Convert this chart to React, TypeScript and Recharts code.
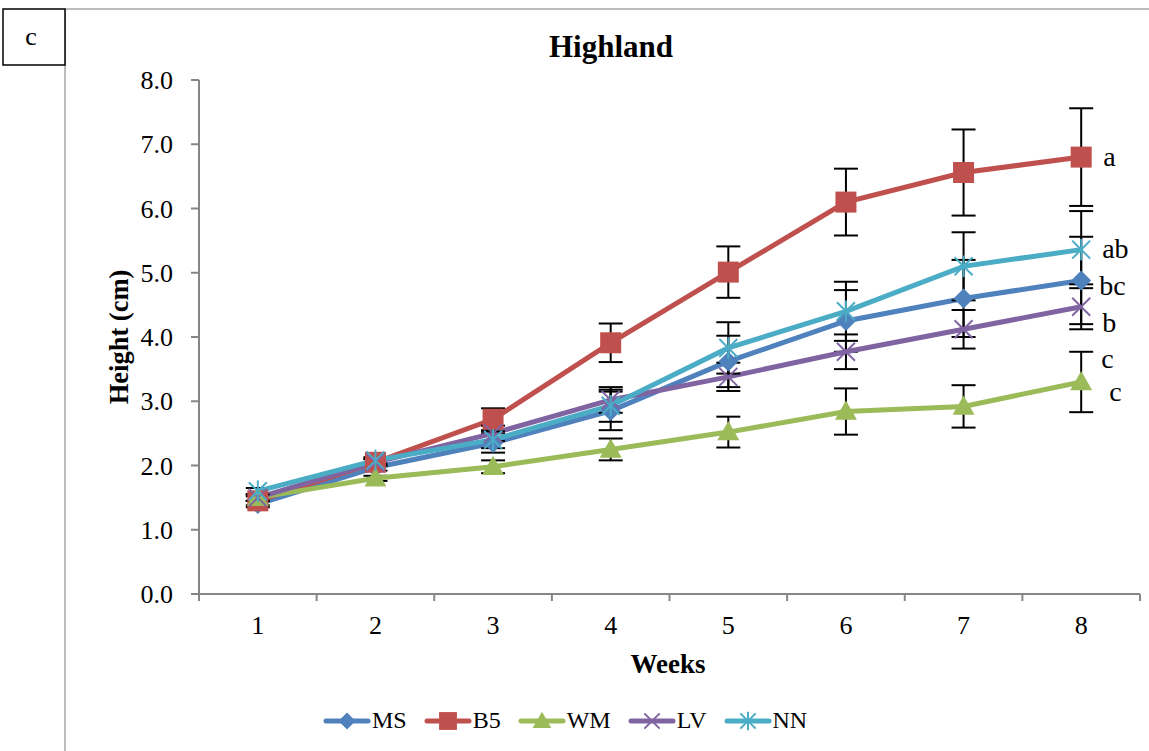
import React from 'react';
import {
  LineChart,
  Line,
  XAxis,
  YAxis,
  ErrorBar,
  LabelList,
  Legend,
} from 'recharts';

const weeks = [1, 2, 3, 4, 5, 6, 7, 8];

const ms = [1.4, 1.97, 2.35, 2.85, 3.62, 4.25, 4.6, 4.88];
const b5 = [1.45, 2.05, 2.72, 3.91, 5.01, 6.1, 6.56, 6.8];
const wm = [1.5, 1.8, 1.98, 2.25, 2.52, 2.84, 2.92, 3.3];
const lv = [1.5, 2.05, 2.5, 3.02, 3.38, 3.77, 4.12, 4.47];
const nn = [1.6, 2.08, 2.4, 2.93, 3.83, 4.4, 5.1, 5.36];

const msErr = [0.05, 0.05, 0.15, 0.3, 0.4, 0.48, 0.6, 0.68];
const b5Err = [0.07, 0.05, 0.17, 0.3, 0.4, 0.52, 0.67, 0.76];
const wmErr = [0.05, 0.04, 0.1, 0.17, 0.24, 0.36, 0.33, 0.47];
const lvErr = [0.05, 0.05, 0.12, 0.2, 0.22, 0.27, 0.3, 0.35];
const nnErr = [0.05, 0.05, 0.13, 0.25, 0.4, 0.46, 0.53, 0.6];

const yTicks = [0, 1, 2, 3, 4, 5, 6, 7, 8];
// category boundaries, where Excel puts the tick marks
const xBounds = [0.5, 1.5, 2.5, 3.5, 4.5, 5.5, 6.5, 7.5, 8.5];

// significance letters at week 8
const letters: Record<string, string[]> = {
  MS: ['bc'],
  B5: ['a'],
  WM: ['c', 'c'],
  LV: ['b'],
  NN: ['ab'],
};

const data = weeks.map((w, i) => ({
  week: w,
  MS: ms[i],
  B5: b5[i],
  WM: wm[i],
  LV: lv[i],
  NN: nn[i],
  msErr: msErr[i],
  b5Err: b5Err[i],
  wmErr: wmErr[i],
  lvErr: lvErr[i],
  nnErr: nnErr[i],
}));

const FONT = '"Liberation Serif", "Times New Roman", serif';
const AXIS = '#868686';

const CHART_W = 1149;
const CHART_H = 751;
const MARGIN = { top: 80, right: 9, left: 0, bottom: 77 };
const Y_AXIS_W = 199;
const PLOT_W = CHART_W - MARGIN.left - MARGIN.right - Y_AXIS_W;
const STEP = PLOT_W / 8;

type Shape = 'diamond' | 'square' | 'triangle' | 'x' | 'star';

const series: { key: string; color: string; shape: Shape; err: string }[] = [
  { key: 'MS', color: '#4F81BD', shape: 'diamond', err: 'msErr' },
  { key: 'B5', color: '#C0504D', shape: 'square', err: 'b5Err' },
  { key: 'WM', color: '#9BBB59', shape: 'triangle', err: 'wmErr' },
  { key: 'LV', color: '#8064A2', shape: 'x', err: 'lvErr' },
  { key: 'NN', color: '#4BACC6', shape: 'star', err: 'nnErr' },
];

function Marker({ cx, cy, shape, color, s = 1 }: { cx: number; cy: number; shape: Shape; color: string; s?: number }) {
  switch (shape) {
    case 'diamond': {
      const r = 10 * s;
      return <path d={`M${cx},${cy - r}L${cx + r},${cy}L${cx},${cy + r}L${cx - r},${cy}Z`} fill={color} />;
    }
    case 'square': {
      const r = 10.5 * s;
      return <rect x={cx - r} y={cy - r} width={2 * r} height={2 * r} fill={color} />;
    }
    case 'triangle': {
      const r = 11 * s;
      return <path d={`M${cx},${cy - r}L${cx + r},${cy + r * 0.75}L${cx - r},${cy + r * 0.75}Z`} fill={color} />;
    }
    case 'x': {
      const r = 9 * s;
      return (
        <g stroke={color} strokeWidth={2}>
          <line x1={cx - r} y1={cy - r} x2={cx + r} y2={cy + r} />
          <line x1={cx - r} y1={cy + r} x2={cx + r} y2={cy - r} />
        </g>
      );
    }
    default: {
      const r = 9 * s;
      return (
        <g stroke={color} strokeWidth={2}>
          <line x1={cx - r} y1={cy - r} x2={cx + r} y2={cy + r} />
          <line x1={cx - r} y1={cy + r} x2={cx + r} y2={cy - r} />
          <line x1={cx} y1={cy - r * 1.2} x2={cx} y2={cy + r * 1.2} />
        </g>
      );
    }
  }
}

// offsets of the letters from the week-8 point of each series
const letterPos: Record<string, { dx: number; dy: number }[]> = {
  MS: [{ dx: 18, dy: 5 }],
  B5: [{ dx: 22, dy: 0 }],
  WM: [
    { dx: 20, dy: -23 },
    { dx: 28, dy: 10 },
  ],
  LV: [{ dx: 21, dy: 16 }],
  NN: [{ dx: 21, dy: -1 }],
};

const letterLabel = (key: string) => (props: any) => {
  const { x, y, index } = props;
  if (index !== weeks.length - 1) return null;
  return (
    <g>
      {letters[key].map((t, i) => (
        <text
          key={i}
          x={x + letterPos[key][i].dx}
          y={y + letterPos[key][i].dy}
          dy="0.33em"
          fontFamily={FONT}
          fontSize={28}
          fill="#000"
        >
          {t}
        </text>
      ))}
    </g>
  );
};

function WeekTick(props: any) {
  const { x, y, payload } = props;
  if (payload.value > 8) return null;
  return (
    <text x={x + STEP / 2} y={y + 31} textAnchor="middle" fontFamily={FONT} fontSize={26} fill="#000">
      {payload.value + 0.5}
    </text>
  );
}

function LegendContent() {
  return (
    <div style={{ display: 'flex', alignItems: 'center', fontFamily: FONT, fontSize: 24 }}>
      {series.map((s) => (
        <div key={s.key} style={{ display: 'flex', alignItems: 'center', marginRight: 17 }}>
          <svg width={48} height={24}>
            <line x1={3} y1={12} x2={45} y2={12} stroke={s.color} strokeWidth={5} strokeLinecap="round" />
            <Marker cx={24} cy={12} shape={s.shape} color={s.color} s={0.85} />
          </svg>
          <span style={{ marginLeft: 1 }}>{s.key}</span>
        </div>
      ))}
    </div>
  );
}

export default function App() {
  return (
    <div style={{ position: 'absolute', left: 0, top: 0, width: CHART_W, height: CHART_H, background: '#fff' }}>
      <svg width={CHART_W} height={CHART_H} style={{ position: 'absolute', left: 0, top: 0 }}>
        <line x1={65} y1={9} x2={CHART_W} y2={9} stroke="#a6a6a6" strokeWidth={1.5} />
        <line x1={65} y1={9} x2={65} y2={CHART_H} stroke="#a6a6a6" strokeWidth={1.5} />
        <rect x={3} y={9} width={62} height={56} fill="#fff" stroke="#000" strokeWidth={1.5} />
        <text x={31} y={45} textAnchor="middle" fontFamily={FONT} fontSize={26}>
          c
        </text>
        <text x={611} y={57} textAnchor="middle" fontFamily={FONT} fontSize={31} fontWeight="bold">
          Highland
        </text>
        <text
          x={128}
          y={337}
          textAnchor="middle"
          transform="rotate(-90 128 337)"
          fontFamily={FONT}
          fontSize={26.5}
          fontWeight="bold"
        >
          Height (cm)
        </text>
        <text x={668} y={673} textAnchor="middle" fontFamily={FONT} fontSize={27} fontWeight="bold">
          Weeks
        </text>
      </svg>
      <div style={{ position: 'absolute', left: 0, top: 0 }}>
        <LineChart width={CHART_W} height={CHART_H} data={data} margin={MARGIN}>
          <XAxis
            dataKey="week"
            type="number"
            domain={[0.5, 8.5]}
            ticks={xBounds}
            tick={<WeekTick />}
            height={80}
            stroke={AXIS}
            strokeWidth={2}
            tickSize={7}
            tickLine={{ stroke: AXIS, strokeWidth: 2 }}
            interval={0}
          />
          <YAxis
            domain={[0, 8]}
            ticks={yTicks}
            width={Y_AXIS_W}
            stroke={AXIS}
            strokeWidth={2}
            tickSize={8}
            tickMargin={18}
            tickLine={{ stroke: AXIS, strokeWidth: 2 }}
            tickFormatter={(v: number) => v.toFixed(1)}
            tick={{ fill: '#000', fontFamily: FONT, fontSize: 26 }}
            interval={0}
          />
          <Legend
            verticalAlign="middle"
            align="center"
            content={<LegendContent />}
            wrapperStyle={{ top: 707, left: 323, width: 600 }}
          />
          {series.map((s) => (
            <Line
              key={s.key}
              dataKey={s.key}
              stroke={s.color}
              strokeWidth={5}
              isAnimationActive={false}
              dot={(p: any) => <Marker key={p.index} cx={p.cx} cy={p.cy} shape={s.shape} color={s.color} />}
              activeDot={false}
            >
              <ErrorBar dataKey={s.err} width={12} stroke="#000" strokeWidth={2} direction="y" />
              <LabelList dataKey={s.key} content={letterLabel(s.key)} />
            </Line>
          ))}
        </LineChart>
      </div>
    </div>
  );
}
